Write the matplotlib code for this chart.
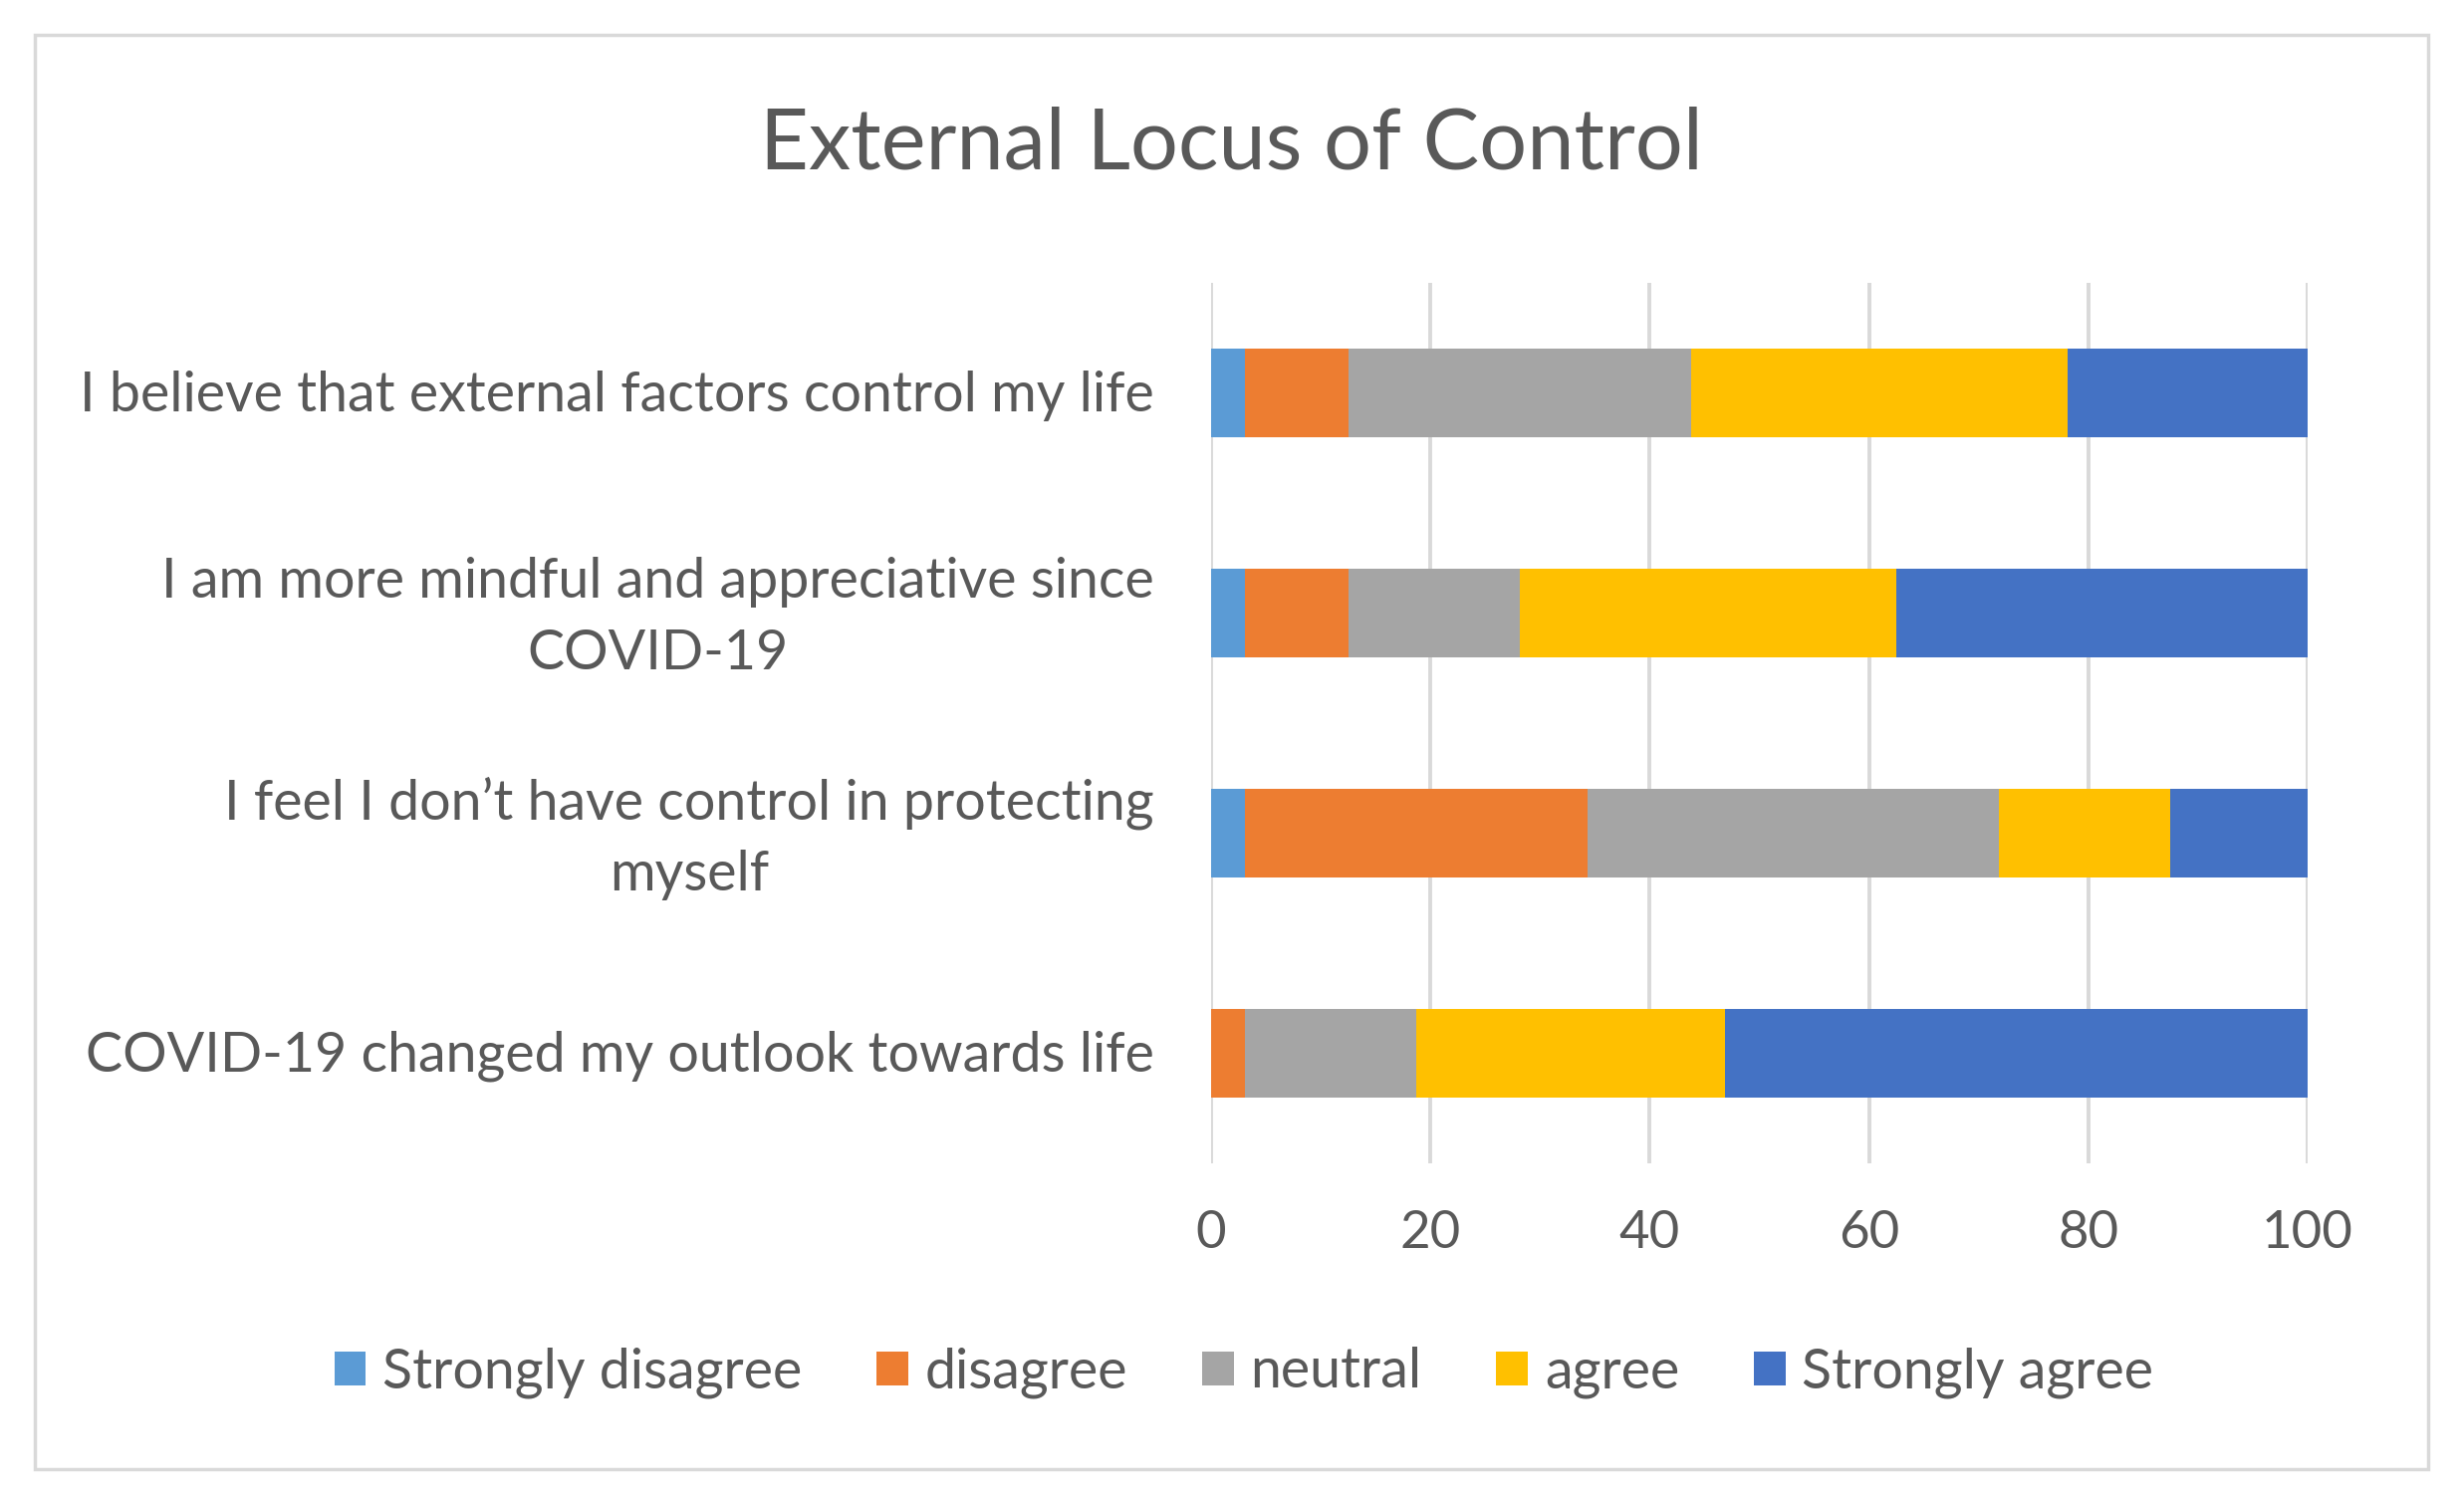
import matplotlib
matplotlib.use("Agg")
import matplotlib.pyplot as plt
from matplotlib.patches import Rectangle, Patch
from matplotlib.transforms import ScaledTranslation
import numpy as np

plt.rcParams['font.family'] = ['Lato', 'DejaVu Sans']

categories = [
    "I believe that external factors control my life",
    "I am more mindful and appreciative since\nCOVID-19",
    "I feel I don\u2019t have control in protecting\nmyself",
    "COVID-19 changed my outlook towards life",
]
series_names = ["Strongly disagree", "disagree", "neutral", "agree", "Strongly agree"]
strongly_disagree = [3.125, 3.125, 3.125, 0.0]
disagree = [9.375, 9.375, 31.25, 3.125]
neutral = [31.25, 15.625, 37.5, 15.625]
agree = [34.375, 34.375, 15.625, 28.125]
strongly_agree = [21.875, 37.5, 12.5, 53.125]
xticks = [0, 20, 40, 60, 80, 100]
colors = ["#5B9BD5", "#ED7D31", "#A5A5A5", "#FFC000", "#4472C4"]
text_color = "#595959"

W, H = 2474, 1504
fig = plt.figure(figsize=(W / 100, H / 100), dpi=100)
fig.patch.set_facecolor("white")

# outer border
fig.add_artist(Rectangle((35 / W, 1 - 1475 / H), (2438 - 35) / W, (1475 - 35) / H,
                         transform=fig.transFigure, fill=False,
                         edgecolor="#D9D9D9", linewidth=2.5))

ax = fig.add_axes([1216 / W, 1 - 1168 / H, (2317 - 1216) / W, (1168 - 284) / H])
y = np.arange(len(categories))[::-1]  # first category on top
data = [strongly_disagree, disagree, neutral, agree, strongly_agree]
left = np.zeros(len(categories))
handles = []
for name, vals, c in zip(series_names, data, colors):
    vals = np.array(vals)
    ax.barh(y, vals, left=left, height=0.4, color=c, label=name, zorder=3)
    handles.append(Patch(facecolor=c, label=name))
    left += vals

ax.set_xlim(0, 100)
ax.set_ylim(-0.5, 3.5)
ax.set_xticks(xticks)
ax.set_xticklabels([str(t) for t in xticks])
ax.set_yticks(y)
ax.set_yticklabels(categories, multialignment="center", linespacing=1.5)
ax.tick_params(axis="both", length=0, labelsize=40, colors=text_color)
ax.tick_params(axis="x", labelsize=38, pad=34)
ax.tick_params(axis="y", pad=41)
for lbl in ax.get_yticklabels():
    dy = 0.10 if "\n" in lbl.get_text() else 0.02
    lbl.set_transform(lbl.get_transform() + ScaledTranslation(0, dy, fig.dpi_scale_trans))
ax.xaxis.grid(True, color="#D9D9D9", linewidth=2.8, zorder=0)
for s in ax.spines.values():
    s.set_visible(False)

fig.text(1236 / W, 1 - 145 / H, "External Locus of Control", ha="center", va="center",
         fontsize=61, color=text_color)

fig.legend(handles=handles, loc="center", bbox_to_anchor=(1249 / W, 1 - 1378 / H),
           ncol=5, frameon=False, fontsize=40, labelcolor=text_color,
           handlelength=0.57, handleheight=0.57, handletextpad=0.3, columnspacing=1.35)

fig.savefig("out.png", dpi=100, facecolor="white")
